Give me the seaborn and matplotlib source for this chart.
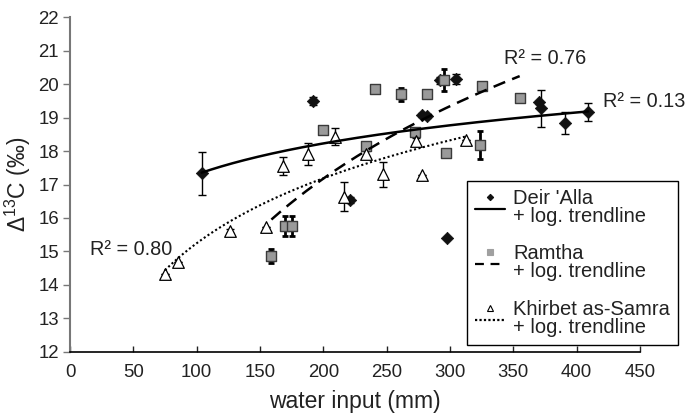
import numpy as np
import pandas as pd
import matplotlib
matplotlib.use("Agg")
import matplotlib.pyplot as plt
import seaborn as sns
from matplotlib.lines import Line2D
from matplotlib.legend_handler import HandlerBase

# ---------------- data ----------------
deir_x = [104, 192, 221, 278, 282, 292, 305, 298, 370, 372, 391, 409]
deir_y = [17.33, 19.51, 16.54, 19.08, 19.05, 20.12, 20.15, 15.40, 19.46, 19.28, 18.85, 19.18]
deir_err = [0.64, 0.12, 0.10, 0.05, 0.05, 0.10, 0.15, 0.0, 0.05, 0.55, 0.33, 0.27]

ramtha_x = [159, 170, 175, 200, 234, 241, 261, 272, 282, 295, 297, 324, 325, 355]
ramtha_y = [14.86, 15.76, 15.76, 18.63, 18.16, 19.87, 19.70, 18.58, 19.71, 20.12, 17.95, 18.18, 19.95, 19.60]
ramtha_err = [0.20, 0.30, 0.30, 0.12, 0.12, 0.0, 0.20, 0.10, 0.0, 0.33, 0.10, 0.42, 0.08, 0.12]

samra_x = [75, 85, 126, 155, 168, 188, 209, 216, 234, 247, 273, 278, 313]
samra_y = [14.32, 14.69, 15.61, 15.74, 17.55, 17.91, 18.43, 16.64, 17.91, 17.31, 18.30, 17.28, 18.33]
samra_err = [0.0, 0.0, 0.05, 0.0, 0.28, 0.33, 0.25, 0.44, 0.10, 0.37, 0.10, 0.0, 0.0]

r2_labels = ["R² = 0.13", "R² = 0.76", "R² = 0.80"]
r2_x = [421, 343, 16]
r2_y = [19.47, 20.77, 15.06]

legend_labels = ["Deir 'Alla\n+ log. trendline",
                 "Ramtha\n+ log. trendline",
                 "Khirbet as-Samra\n+ log. trendline"]

x_ticks = [0, 50, 100, 150, 200, 250, 300, 350, 400, 450]
y_ticks = [12, 13, 14, 15, 16, 17, 18, 19, 20, 21, 22]

# ---------------- style ----------------
sns.set_theme(style="white")
plt.rcParams["font.family"] = ["Liberation Sans", "DejaVu Sans"]
plt.rcParams["mathtext.fontset"] = "custom"
plt.rcParams["mathtext.rm"] = "Liberation Sans"
plt.rcParams["mathtext.it"] = "Liberation Sans"

fig = plt.figure(figsize=(6.85, 4.17), dpi=100)
ax = fig.add_axes([70 / 685, 1 - 351.7 / 417, 570 / 685, 334.4 / 417])


def log_fit(x, y):
    x = np.asarray(x, float)
    y = np.asarray(y, float)
    b, a = np.polyfit(np.log(x), y, 1)
    xs = np.linspace(x.min(), x.max(), 200)
    return xs, a + b * np.log(xs)


# error bars
ax.errorbar(deir_x, deir_y, yerr=deir_err, fmt="none", ecolor="black",
            elinewidth=1.0, capsize=3, capthick=1.0, zorder=2)
ax.errorbar(samra_x, samra_y, yerr=samra_err, fmt="none", ecolor="black",
            elinewidth=1.0, capsize=3, capthick=1.0, zorder=2)
ax.errorbar(ramtha_x, ramtha_y, yerr=ramtha_err, fmt="none", ecolor="black",
            elinewidth=2.0, capsize=2.5, capthick=2.0, zorder=2)

# points
sns.scatterplot(x=deir_x, y=deir_y, marker="D", s=40, color="#111111",
                edgecolor="#111111", linewidth=0.5, ax=ax, zorder=3)
sns.scatterplot(x=ramtha_x, y=ramtha_y, marker="s", s=58, color="#9a9a9a",
                edgecolor="#3a3a3a", linewidth=1.0, ax=ax, zorder=3)
sns.scatterplot(x=samra_x, y=samra_y, marker="^", s=70, color="white",
                edgecolor="black", linewidth=0.9, ax=ax, zorder=3)

# log trendlines
xs, ys = log_fit(deir_x, deir_y)
sns.lineplot(x=xs, y=ys, color="black", linewidth=1.8, linestyle="-", ax=ax, zorder=4)
xs, ys = log_fit(ramtha_x, ramtha_y)
sns.lineplot(x=xs, y=ys, color="black", linewidth=1.8, ax=ax, zorder=4,
             dashes=False).lines[-1].set_dashes([5, 3])
xs, ys = log_fit(samra_x, samra_y)
sns.lineplot(x=xs, y=ys, color="black", linewidth=1.5, ax=ax, zorder=4).lines[-1].set_dashes([1, 1.2])

for t, x, y in zip(r2_labels, r2_x, r2_y):
    ax.text(x, y, t, fontsize=14.3, va="center", ha="left", color="#222222")

ax.set_xlim(0, 450)
ax.set_ylim(12, 22)
ax.set_xticks(x_ticks)
ax.set_yticks(y_ticks)
ax.tick_params(axis="both", labelsize=13.4, colors="#222222")
ax.tick_params(axis="x", direction="in", length=4, width=1, pad=9)
ax.tick_params(axis="y", direction="out", length=5, width=1, pad=3, color="#777777")
ax.tick_params(axis="y", labelcolor="#222222")
ax.xaxis.set_ticks_position("bottom")
ax.yaxis.set_ticks_position("left")
for s in ["top", "right"]:
    ax.spines[s].set_visible(False)
ax.spines["left"].set_color("#777777")
ax.spines["left"].set_linewidth(1.5)
ax.spines["bottom"].set_color("black")
ax.spines["bottom"].set_linewidth(1.2)
ax.set_xlabel("water input (mm)", fontsize=16.5, color="#222222", labelpad=6)
ax.set_ylabel("Δ$^{13}$C (‰)", fontsize=16.5, color="#222222", labelpad=4)
ax.grid(False)


# ---------------- legend with marker above line ----------------
class MarkerAboveLine(HandlerBase):
    def __init__(self, marker, mfc, mec, ms, dashes):
        super().__init__()
        self.marker, self.mfc, self.mec, self.ms, self.dashes = marker, mfc, mec, ms, dashes

    def create_artists(self, legend, orig_handle, xdescent, ydescent, width,
                       height, fontsize, trans):
        yl = 0.3 * fontsize
        line = Line2D([-xdescent, -xdescent + width], [yl, yl], color="black",
                      linewidth=1.6)
        if self.dashes is not None:
            line.set_dashes(self.dashes)
        mk = Line2D([-xdescent + width / 2], [yl + 0.6 * fontsize], marker=self.marker,
                    markerfacecolor=self.mfc, markeredgecolor=self.mec,
                    markersize=self.ms, linestyle="none", markeredgewidth=0.8)
        line.set_transform(trans)
        mk.set_transform(trans)
        return [line, mk]


h1 = Line2D([], [])
h2 = Line2D([], [])
h3 = Line2D([], [])
leg = ax.legend([h1, h2, h3], legend_labels,
                handler_map={h1: MarkerAboveLine("D", "#111111", "#111111", 3.2, None),
                             h2: MarkerAboveLine("s", "#a0a0a0", "#a0a0a0", 4.2, [4, 3]),
                             h3: MarkerAboveLine("^", "white", "black", 4.8, [1, 1])},
                loc="upper left", bbox_to_anchor=(466.7 / 685, 1 - 180.7 / 417),
                bbox_transform=fig.transFigure, fontsize=14.5, frameon=True,
                fancybox=False, edgecolor="black", framealpha=1, borderpad=0.4,
                handlelength=1.5, handleheight=2.0, handletextpad=0.4,
                labelspacing=0.9, borderaxespad=0)
leg.get_frame().set_linewidth(1.0)
for t in leg.get_texts():
    t.set_linespacing(0.95)
    t.set_color("#222222")

fig.savefig("out.png", dpi=100)
